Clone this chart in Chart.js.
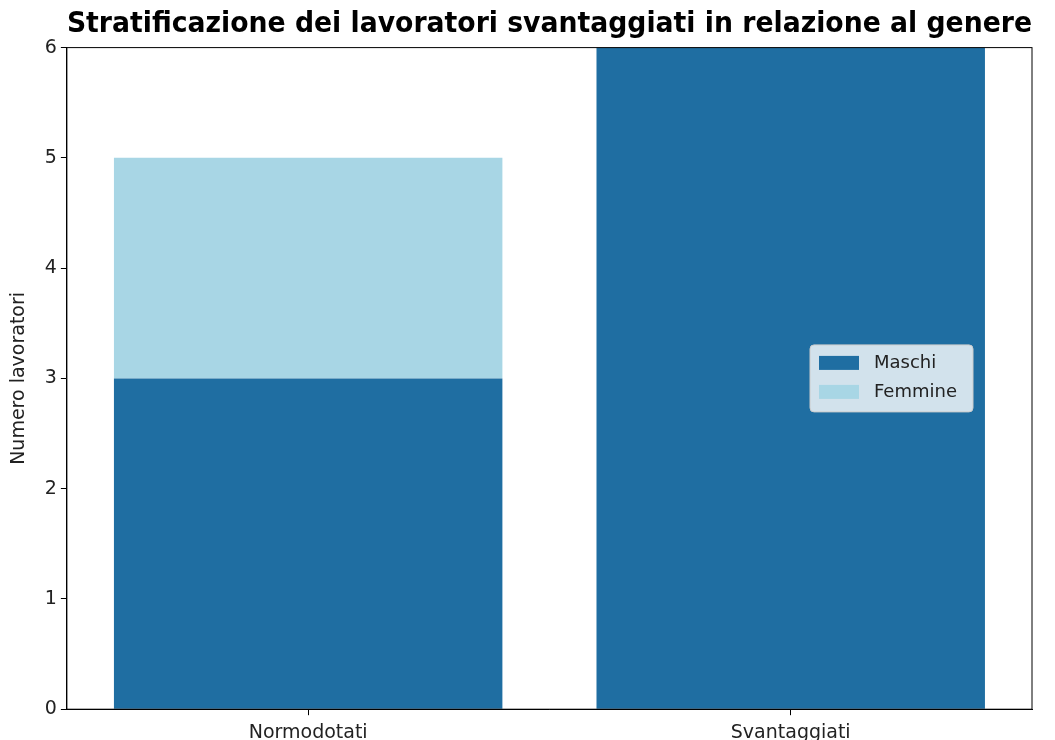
<!DOCTYPE html>
<html>
<head>
<meta charset="utf-8">
<script src="https://cdn.jsdelivr.net/npm/chart.js@4"></script>
<style>
  html, body { margin: 0; padding: 0; background: #fff; overflow: hidden; }
  #wrap { width: 1055px; height: 750px; }
</style>
</head>
<body>
<div id="wrap"><canvas id="genderChart" width="1055" height="750"></canvas></div>
<script>
const categories = ['Normodotati', 'Svantaggiati'];
const maschi = [3, 6];
const femmine = [2, 0];
const seriesNames = ['Maschi', 'Femmine'];
const yTicks = [0, 1, 2, 3, 4, 5, 6];

const maschiColor = '#1f6ea2';
const femmineColor = '#a8d6e5';

// full box around the plot, like the matplotlib axes frame
const framePlugin = {
    id: 'frame',
    afterDatasetsDraw(chart) {
        const { ctx, chartArea } = chart;
        ctx.save();
        ctx.strokeStyle = '#000';
        ctx.lineWidth = 1;
        ctx.strokeRect(chartArea.left, chartArea.top, chartArea.right - chartArea.left, chartArea.bottom - chartArea.top);
        ctx.restore();
    }
};

// legend drawn inside the plot, centre right
const insideLegend = {
    id: 'insideLegend',
    afterDraw(chart) {
        const { ctx, chartArea } = chart;
        const w = 163, h = 67;
        const x = chartArea.right - 59 - w;
        const y = (chartArea.top + chartArea.bottom) / 2 - h / 2;
        ctx.save();
        ctx.beginPath();
        ctx.roundRect(x, y, w, h, 4);
        ctx.fillStyle = 'rgba(255,255,255,0.8)';
        ctx.fill();
        ctx.strokeStyle = '#cccccc';
        ctx.lineWidth = 1;
        ctx.stroke();
        ctx.font = '18px "DejaVu Sans"';
        ctx.textBaseline = 'middle';
        chart.data.datasets.forEach((ds, i) => {
            const rowY = y + 18 + i * 29;
            ctx.fillStyle = ds.backgroundColor;
            ctx.fillRect(x + 9, rowY - 7, 40, 14);
            ctx.fillStyle = '#222';
            ctx.fillText(ds.label, x + 64, rowY);
        });
        ctx.restore();
    }
};

new Chart(document.getElementById('genderChart').getContext('2d'), {
    type: 'bar',
    data: {
        labels: categories,
        datasets: [
            { label: seriesNames[0], data: maschi, backgroundColor: maschiColor },
            { label: seriesNames[1], data: femmine, backgroundColor: femmineColor }
        ]
    },
    options: {
        responsive: false,
        animation: false,
        layout: { padding: { left: 8, right: 23, top: 0, bottom: 0 } },
        datasets: { bar: { barPercentage: 0.805, categoryPercentage: 1.0 } },
        plugins: {
            legend: { display: false },
            tooltip: { enabled: false },
            title: {
                display: true,
                fullSize: false,
                text: 'Stratificazione dei lavoratori svantaggiati in relazione al genere',
                color: '#000',
                font: { family: 'DejaVu Sans', size: 28, weight: 'bold' },
                padding: { top: 8, bottom: 6 }
            }
        },
        scales: {
            x: {
                stacked: true,
                grid: { display: true, drawOnChartArea: false, drawTicks: true, tickLength: 6, color: '#000', offset: false },
                border: { display: true, color: '#000', width: 1 },
                ticks: { color: '#222', font: { family: 'DejaVu Sans', size: 19 }, padding: 6 }
            },
            y: {
                stacked: true,
                min: 0,
                max: 6,
                afterBuildTicks(axis) { axis.ticks = yTicks.map(v => ({ value: v })); },
                grid: { display: true, drawOnChartArea: false, drawTicks: true, tickLength: 6, color: '#000' },
                border: { display: true, color: '#000', width: 1 },
                ticks: { color: '#222', font: { family: 'DejaVu Sans', size: 19 }, padding: 4 },
                title: {
                    display: true,
                    text: 'Numero lavoratori',
                    color: '#222',
                    font: { family: 'DejaVu Sans', size: 19 },
                    padding: { top: 0, bottom: 10 }
                }
            }
        }
    },
    plugins: [framePlugin, insideLegend]
});
</script>
</body>
</html>
